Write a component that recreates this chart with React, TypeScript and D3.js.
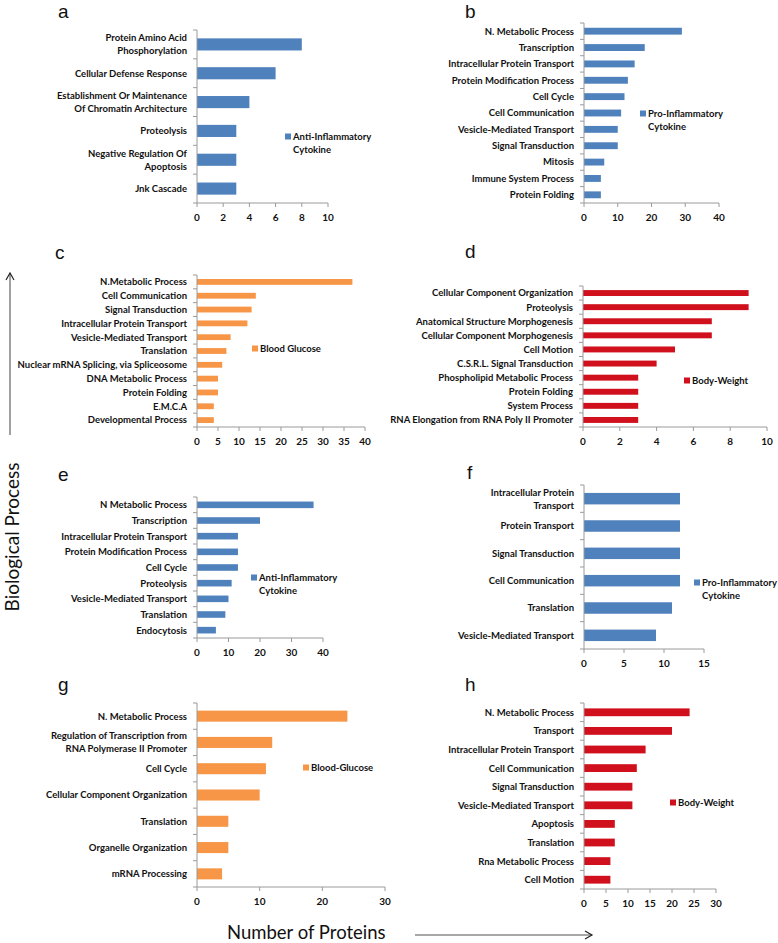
import React from "react";
import * as d3 from "d3";

const aLabels = ["Protein Amino Acid\nPhosphorylation", "Cellular Defense Response", "Establishment Or Maintenance\nOf Chromatin Architecture", "Proteolysis", "Negative Regulation Of\nApoptosis", "Jnk Cascade"];
const aValues = [8, 6, 4, 3, 3, 3];
const aLegend = ["Anti-Inflammatory", "Cytokine"];

const bLabels = ["N. Metabolic Process", "Transcription", "Intracellular Protein Transport", "Protein Modification Process", "Cell Cycle", "Cell Communication", "Vesicle-Mediated Transport", "Signal Transduction", "Mitosis", "Immune System Process", "Protein Folding"];
const bValues = [29, 18, 15, 13, 12, 11, 10, 10, 6, 5, 5];
const bLegend = ["Pro-Inflammatory", "Cytokine"];

const cLabels = ["N.Metabolic Process", "Cell Communication", "Signal Transduction", "Intracellular Protein Transport", "Vesicle-Mediated Transport", "Translation", "Nuclear mRNA Splicing, via Spliceosome", "DNA Metabolic Process", "Protein Folding", "E.M.C.A", "Developmental Process"];
const cValues = [37, 14, 13, 12, 8, 7, 6, 5, 5, 4, 4];
const cLegend = ["Blood Glucose"];

const dLabels = ["Cellular Component Organization", "Proteolysis", "Anatomical Structure Morphogenesis", "Cellular Component Morphogenesis", "Cell Motion", "C.S.R.L. Signal Transduction", "Phospholipid Metabolic Process", "Protein Folding", "System Process", "RNA Elongation from RNA Poly II Promoter"];
const dValues = [9, 9, 7, 7, 5, 4, 3, 3, 3, 3];
const dLegend = ["Body-Weight"];

const eLabels = ["N Metabolic Process", "Transcription", "Intracellular Protein Transport", "Protein Modification Process", "Cell Cycle", "Proteolysis", "Vesicle-Mediated Transport", "Translation", "Endocytosis"];
const eValues = [37, 20, 13, 13, 13, 11, 10, 9, 6];
const eLegend = ["Anti-Inflammatory", "Cytokine"];

const fLabels = ["Intracellular Protein\nTransport", "Protein Transport", "Signal Transduction", "Cell Communication", "Translation", "Vesicle-Mediated Transport"];
const fValues = [12, 12, 12, 12, 11, 9];
const fLegend = ["Pro-Inflammatory", "Cytokine"];

const gLabels = ["N. Metabolic Process", "Regulation of Transcription from\nRNA Polymerase II Promoter", "Cell Cycle", "Cellular Component Organization", "Translation", "Organelle Organization", "mRNA Processing"];
const gValues = [24, 12, 11, 10, 5, 5, 4];
const gLegend = ["Blood-Glucose"];

const hLabels = ["N. Metabolic Process", "Transport", "Intracellular Protein Transport", "Cell Communication", "Signal Transduction", "Vesicle-Mediated Transport", "Apoptosis", "Translation", "Rna Metabolic Process", "Cell Motion"];
const hValues = [24, 20, 14, 12, 11, 11, 7, 7, 6, 6];
const hLegend = ["Body-Weight"];

const BLUE = "#4f81bd";
const ORANGE = "#f79646";
const RED = "#d0101c";
const AXIS = "#9a9a9a";
const FONT = "Lato, 'Open Sans', sans-serif";
const LETTER_FONT = "'Liberation Sans', Arial, sans-serif";

type PanelProps = {
  letter: string; letterX: number; letterY: number;
  labels: string[]; values: number[]; legend: string[]; color: string;
  x0: number; x1: number; top: number; bottom: number; max: number; step: number;
  legX: number; legY: number;
};

function Panel(p: PanelProps) {
  const x = d3.scaleLinear().domain([0, p.max]).range([p.x0, p.x1]);
  const y = d3.scaleBand<string>().domain(p.labels).range([p.top, p.bottom]).paddingInner(0.58).paddingOuter(0.29);
  const ticks = d3.range(0, p.max + p.step / 2, p.step);
  const stepPx = (p.bottom - p.top) / p.labels.length;
  const bounds = d3.range(0, p.labels.length + 1).map((i) => p.top + i * stepPx);
  return (
    <g>
      <text x={p.letterX} y={p.letterY} fontSize={19} fontFamily={LETTER_FONT} fill="#111">{p.letter}</text>
      {p.labels.map((l, i) => (
        <rect key={"b" + i} x={x(0)} y={y(l)} width={x(p.values[i]) - x(0)} height={y.bandwidth()} fill={p.color} />
      ))}
      <line x1={p.x0} x2={p.x0} y1={p.top} y2={p.bottom} stroke={AXIS} strokeWidth={1} />
      <line x1={p.x0} x2={p.x1} y1={p.bottom} y2={p.bottom} stroke={AXIS} strokeWidth={1} />
      {bounds.map((b, i) => (
        <line key={"yt" + i} x1={p.x0 - 4} x2={p.x0} y1={b} y2={b} stroke={AXIS} />
      ))}
      {ticks.map((t) => (
        <g key={"xt" + t}>
          <line x1={x(t)} x2={x(t)} y1={p.bottom} y2={p.bottom + 4} stroke={AXIS} />
          <text x={x(t)} y={p.bottom + 18} fontSize={10} fontWeight={700} fontFamily={FONT} textAnchor="middle" fill="#111">{t}</text>
        </g>
      ))}
      {p.labels.map((l, i) => {
        const lines = l.split("\n");
        const cy = (y(l) as number) + y.bandwidth() / 2;
        return (
          <text key={"l" + i} x={p.x0 - 10} y={cy} fontSize={9.5} fontWeight={700} fontFamily={FONT} textAnchor="end" fill="#111">
            {lines.map((s, j) => (
              <tspan key={j} x={p.x0 - 10} y={cy + 3.4 + (j - (lines.length - 1) / 2) * 13}>{s}</tspan>
            ))}
          </text>
        );
      })}
      <rect x={p.legX} y={p.legY - 3.5} width={6} height={6} fill={p.color} />
      {p.legend.map((s, j) => (
        <text key={"lg" + j} x={p.legX + 8} y={p.legY + 3.4 + j * 13} fontSize={9.5} fontWeight={700} fontFamily={FONT} fill="#111">{s}</text>
      ))}
    </g>
  );
}

export default function App() {
  return (
    <svg width={778} height={943} style={{ position: "absolute", left: 0, top: 0, background: "#fff" }}>
      <rect width={778} height={943} fill="#fff" />
      <Panel letter="a" letterX={58} letterY={17.5} labels={aLabels} values={aValues} legend={aLegend} color={BLUE}
        x0={197} x1={328} top={30} bottom={203} max={10} step={2} legX={285} legY={137} />
      <Panel letter="b" letterX={465} letterY={17.5} labels={bLabels} values={bValues} legend={bLegend} color={BLUE}
        x0={584} x1={719} top={23} bottom={203} max={40} step={10} legX={640} legY={114} />
      <Panel letter="c" letterX={55} letterY={259} labels={cLabels} values={cValues} legend={cLegend} color={ORANGE}
        x0={197} x1={365} top={275} bottom={427} max={40} step={5} legX={252} legY={349} />
      <Panel letter="d" letterX={465} letterY={258} labels={dLabels} values={dValues} legend={dLegend} color={RED}
        x0={583} x1={767} top={286} bottom={427} max={10} step={2} legX={684} legY={381} />
      <Panel letter="e" letterX={58} letterY={481} labels={eLabels} values={eValues} legend={eLegend} color={BLUE}
        x0={197} x1={323} top={497} bottom={638} max={40} step={10} legX={251} legY={578} />
      <Panel letter="f" letterX={467} letterY={479} labels={fLabels} values={fValues} legend={fLegend} color={BLUE}
        x0={584} x1={704} top={485} bottom={649} max={15} step={5} legX={694} legY={583} />
      <Panel letter="g" letterX={58} letterY={691} labels={gLabels} values={gValues} legend={gLegend} color={ORANGE}
        x0={197} x1={385} top={703} bottom={887} max={30} step={10} legX={303} legY={768} />
      <Panel letter="h" letterX={465} letterY={691} labels={hLabels} values={hValues} legend={hLegend} color={RED}
        x0={584} x1={716} top={703} bottom={889} max={30} step={5} legX={670} legY={803} />

      <line x1={10} x2={10} y1={273} y2={435} stroke="#8a8a8a" strokeWidth={1.6} />
      <path d="M6,280 L10,273 L14,280" fill="none" stroke="#222" strokeWidth={1.2} />
      <text transform="translate(19,537) rotate(-90)" fontSize={19} fontFamily={FONT} textAnchor="middle" fill="#111">Biological Process</text>

      <text x={227} y={939} fontSize={18.5} fontFamily={FONT} fill="#111">Number of Proteins</text>
      <line x1={415} x2={592} y1={935} y2={935} stroke="#8a8a8a" strokeWidth={1.6} />
      <path d="M585,931 L592,935 L585,939" fill="none" stroke="#222" strokeWidth={1.2} />
    </svg>
  );
}
